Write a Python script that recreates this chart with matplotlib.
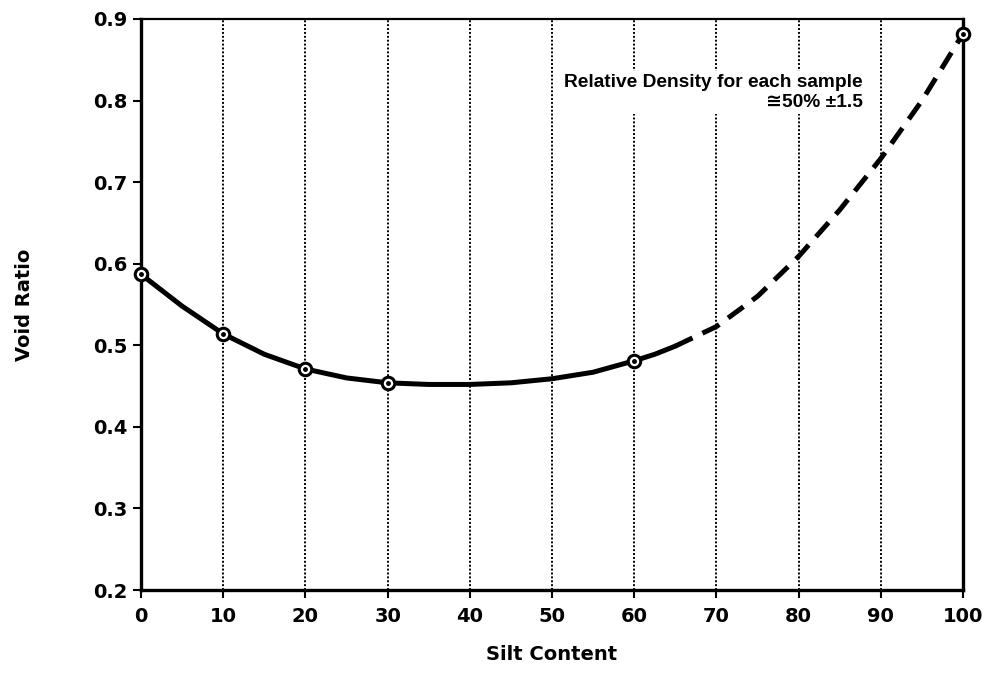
import matplotlib
matplotlib.use("Agg")
import matplotlib.pyplot as plt

# measured samples (silt content %, void ratio)
silt = [0, 10, 20, 30, 60, 100]
void_ratio = [0.587, 0.514, 0.471, 0.454, 0.481, 0.882]

# trend curve, solid part and dashed (extrapolated) part
curve_x_solid = [0, 5, 10, 15, 20, 25, 30, 35, 40, 45, 50, 55, 60, 62.5, 65]
curve_y_solid = [0.587, 0.548, 0.514, 0.489, 0.471, 0.460, 0.454, 0.452,
                 0.452, 0.454, 0.459, 0.467, 0.481, 0.489, 0.499]
curve_x_dash = [65, 70, 75, 80, 85, 90, 95, 100]
curve_y_dash = [0.499, 0.523, 0.560, 0.609, 0.666, 0.729, 0.800, 0.882]

x_ticks = [0, 10, 20, 30, 40, 50, 60, 70, 80, 90, 100]
y_ticks = [0.2, 0.3, 0.4, 0.5, 0.6, 0.7, 0.8, 0.9]

note = "Relative Density for each sample\n\u224550% \u00b11.5"

fig = plt.figure(figsize=(9.91, 6.88), dpi=100)
ax = fig.add_axes([0.1423, 0.1424, 0.8295, 0.83])

# dotted vertical grid
for xv in x_ticks[1:-1]:
    ax.axvline(xv, color="black", lw=1.4, ls=(0, (1, 1.0)), zorder=1)

ax.plot(curve_x_solid, curve_y_solid, color="black", lw=3.6,
        solid_capstyle="round", solid_joinstyle="round", zorder=4)
ax.plot(curve_x_dash, curve_y_dash, color="black", lw=3.6,
        ls=(0, (3.8, 2.2)), zorder=4)

ax.plot(silt, void_ratio, ls="none", marker="o", ms=9, mfc="white",
        mec="black", mew=2.2, zorder=5, clip_on=False)
ax.plot(silt, void_ratio, ls="none", marker="o", ms=2.5, color="black",
        zorder=6, clip_on=False)

ax.text(87.8, 0.81, note, ha="right", va="center", fontsize=13.8,
        fontweight="bold", family=["Liberation Sans", "DejaVu Sans"],
        linespacing=1.25, zorder=3,
        bbox=dict(facecolor="white", edgecolor="none", pad=2))

ax.set_xlim(0, 100)
ax.set_ylim(0.2, 0.9)
ax.set_xticks(x_ticks)
ax.set_yticks(y_ticks)
ax.set_xticklabels([str(v) for v in x_ticks])
ax.set_yticklabels([f"{v:.1f}" for v in y_ticks])

for lab in ax.get_xticklabels() + ax.get_yticklabels():
    lab.set_fontweight("bold")
    lab.set_fontsize(14)

ax.tick_params(axis="both", direction="out", length=6, width=1.5, color="black")
ax.tick_params(axis="x", pad=6)
ax.tick_params(axis="y", pad=4)

for side in ["left", "bottom", "right"]:
    ax.spines[side].set_linewidth(2.4)
ax.spines["top"].set_linewidth(1.6)

ax.set_xlabel("Silt Content", fontsize=14, fontweight="bold", labelpad=14)
ax.set_ylabel("Void Ratio", fontsize=14, fontweight="bold", labelpad=42)

fig.savefig("out.png", dpi=100)
